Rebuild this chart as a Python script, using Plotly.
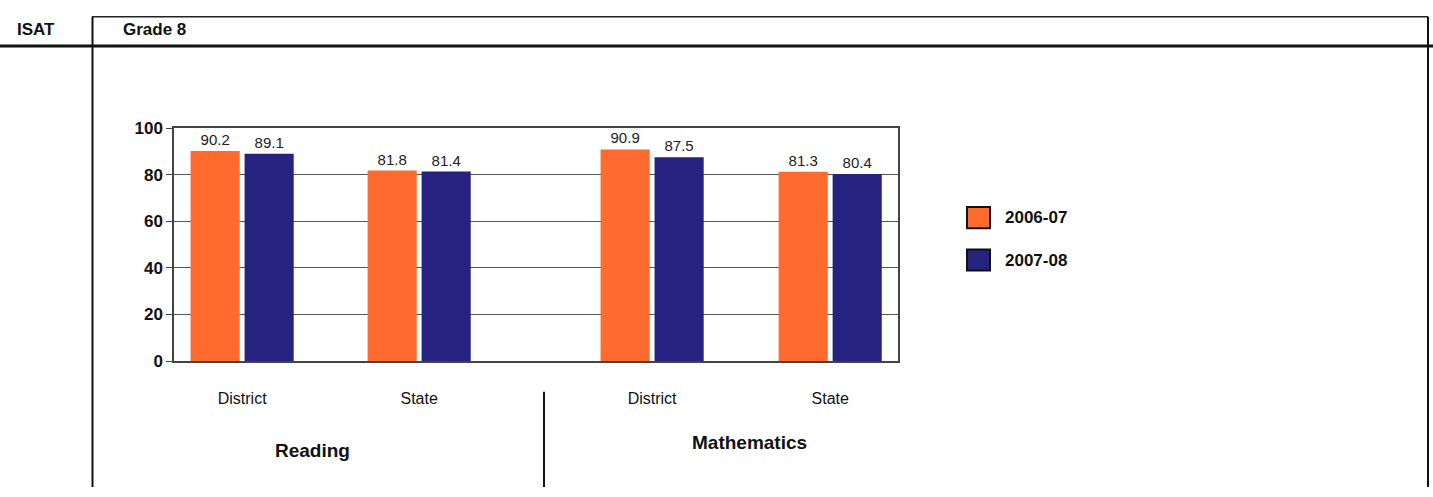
import plotly.graph_objects as go

# ISAT Grade 8: percent meeting/exceeding standards
groups = ["District", "State", "District", "State"]
group_pos = [0.0, 1.0, 2.316, 3.322]          # Reading pair, then Mathematics pair
series_names = ["2006-07", "2007-08"]
values_0607 = [90.2, 81.8, 90.9, 81.3]
values_0708 = [89.1, 81.4, 87.5, 80.4]
y_ticks = [0, 20, 40, 60, 80, 100]
subjects = ["Reading", "Mathematics"]

ORANGE = "#FF6A2E"
NAVY = "#25237F"
SANS = "Liberation Sans, Arial, sans-serif"

W, H = 1433, 497


def px(x):
    return x / W


def py(y):
    return 1 - y / H


fig = go.Figure()
colors = [ORANGE, NAVY]
for name, vals, col in zip(series_names, [values_0607, values_0708], colors):
    fig.add_trace(go.Bar(
        x=group_pos, y=vals, name=name, showlegend=False,
        marker=dict(color=col, line=dict(width=0)),
        text=[f"{v:.1f}" for v in vals], textposition="outside",
        textfont=dict(family=SANS, size=15, color="#222"),
        cliponaxis=False,
    ))

fig.update_layout(
    width=W, height=H,
    margin=dict(l=0, r=0, t=0, b=0),
    paper_bgcolor="white", plot_bgcolor="white",
    barmode="group", bargap=0.39, bargroupgap=0.09,
    xaxis=dict(domain=[px(174), px(898)], range=[-0.385, 3.705],
               tickvals=group_pos, ticktext=groups, ticks="",
               ticklabelstandoff=22,
               tickfont=dict(family=SANS, size=16, color="#111"),
               showgrid=False, zeroline=False,
               showline=True, linecolor="#444", linewidth=1.5, mirror=True),
    yaxis=dict(domain=[py(366), py(124)], range=[0, 100],
               tickvals=y_ticks, ticks="outside", ticklen=6, tickcolor="#444",
               tickfont=dict(family=SANS, size=17, color="#111", weight="bold"),
               showgrid=True, gridcolor="#555", gridwidth=1.2, zeroline=False,
               showline=True, linecolor="#444", linewidth=1.5, mirror=True),
)

# Legend: outlined swatches with bold year labels
legend_rows = [217, 261]
for name, col, yc in zip(series_names, colors, legend_rows):
    fig.add_shape(type="rect", xref="paper", yref="paper",
                  x0=px(967), x1=px(990), y0=py(yc - 11), y1=py(yc + 11),
                  fillcolor=col, line=dict(color="#111", width=2))
    fig.add_annotation(x=px(1003), y=py(yc), xref="paper", yref="paper", text=name,
                       showarrow=False, xanchor="left", yanchor="middle",
                       font=dict(family=SANS, size=17, color="#111", weight="bold"))

# Page frame lines
line_dark = dict(color="#111", width=2)
shapes = [
    dict(x0=px(92), x1=px(1428), y0=py(8), y1=py(8), line=dict(color="#222", width=1.5)),
    dict(x0=0, x1=1, y0=py(38.5), y1=py(38.5), line=dict(color="#111", width=3)),
    dict(x0=px(92.5), x1=px(92.5), y0=py(8), y1=0, line=line_dark),
    dict(x0=px(1428), x1=px(1428), y0=py(8), y1=0, line=line_dark),
    dict(x0=px(544), x1=px(544), y0=py(398), y1=0, line=line_dark),
]
for s in shapes:
    fig.add_shape(type="line", xref="paper", yref="paper", **s)

header_font = dict(family=SANS, size=17, color="#111", weight="bold")
fig.add_annotation(x=px(15), y=py(21.5), xref="paper", yref="paper", text="ISAT",
                   showarrow=False, xanchor="left", yanchor="middle", font=header_font)
fig.add_annotation(x=px(121), y=py(21.5), xref="paper", yref="paper", text="Grade 8",
                   showarrow=False, xanchor="left", yanchor="middle", font=header_font)

subject_font = dict(family=SANS, size=19, color="#111", weight="bold")
fig.add_annotation(x=px(312), y=py(459), xref="paper", yref="paper", text=subjects[0],
                   showarrow=False, xanchor="center", yanchor="middle", font=subject_font)
fig.add_annotation(x=px(749), y=py(451), xref="paper", yref="paper", text=subjects[1],
                   showarrow=False, xanchor="center", yanchor="middle", font=subject_font)

fig.write_html("out.html", post_script="document.body.style.margin='0';")
